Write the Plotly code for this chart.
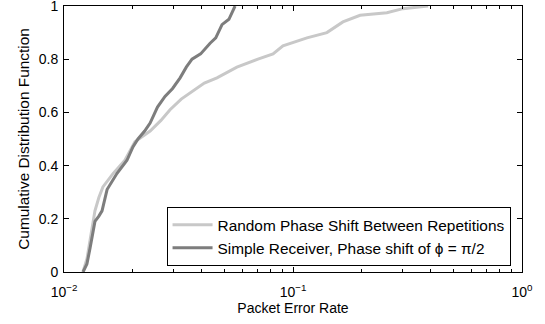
import plotly.graph_objects as go

# Packet error rate (x) and CDF (y) for each series
simple_per = [0.01211, 0.01259, 0.01300, 0.01324, 0.01365, 0.01420, 0.01466, 0.01542, 0.01620,
              0.01702, 0.01884, 0.02000, 0.02104, 0.02250, 0.02377, 0.02560, 0.02761, 0.02980,
              0.03214, 0.03420, 0.03622, 0.03950, 0.04345, 0.04600, 0.04898, 0.05250, 0.05585]
simple_cdf = [0.0, 0.03, 0.09, 0.13, 0.19, 0.21, 0.23, 0.31, 0.34,
              0.37, 0.42, 0.47, 0.50, 0.53, 0.56, 0.62, 0.66, 0.69,
              0.73, 0.77, 0.80, 0.82, 0.86, 0.88, 0.93, 0.95, 1.0]

random_per = [0.0121, 0.0126, 0.0130, 0.01365, 0.0142, 0.01479, 0.01637, 0.01845, 0.0204,
              0.02377, 0.02650, 0.02904, 0.03250, 0.03656, 0.04100, 0.04656, 0.05689, 0.0703,
              0.0818, 0.0904, 0.1151, 0.1406, 0.1652, 0.1963, 0.2570, 0.3020, 0.389]
random_cdf = [0.0, 0.05, 0.12, 0.23, 0.28, 0.32, 0.37, 0.42, 0.49,
              0.53, 0.57, 0.61, 0.65, 0.68, 0.71, 0.73, 0.77, 0.80,
              0.82, 0.85, 0.88, 0.90, 0.94, 0.965, 0.975, 0.99, 1.0]

series_names = ["Random Phase Shift Between Repetitions",
                "Simple Receiver, Phase shift of \u03d5 = \u03c0/2"]

x_major = [0.01, 0.1, 1]
x_major_text = ["10<sup>\u22122</sup>", "10<sup>\u22121</sup>", "10<sup>0</sup>"]
x_minor = [m * d for d in (0.01, 0.1) for m in range(2, 10)]
y_ticks = [0, 0.2, 0.4, 0.6, 0.8, 1]
y_tick_text = ["0", "0.2", "0.4", "0.6", "0.8", "1"]

FAM = "Liberation Sans, Arial, Helvetica, sans-serif"
font = dict(family=FAM, size=14, color="black")
ytitle_font = dict(family=FAM, size=15.4, color="black")
legend_font = dict(family=FAM, size=15.4, color="black")

fig = go.Figure()
fig.add_trace(go.Scatter(x=random_per, y=random_cdf, mode="lines", name=series_names[0],
                         line=dict(color="#c8c8c8", width=3)))
fig.add_trace(go.Scatter(x=simple_per, y=simple_cdf, mode="lines", name=series_names[1],
                         line=dict(color="#7d7d7d", width=3)))
# invisible trace to drive minor-tick axis
fig.add_trace(go.Scatter(x=[0.01, 1], y=[0, 1], xaxis="x2", mode="lines",
                         line=dict(width=0), showlegend=False, hoverinfo="skip"))

fig.update_layout(
    width=545, height=324,
    margin=dict(l=64, r=23, t=6, b=52, autoexpand=False),
    paper_bgcolor="white", plot_bgcolor="white",
    font=font,
    showlegend=True,
    legend=dict(x=0.975, y=0.022, xanchor="right", yanchor="bottom",
                bgcolor="white", bordercolor="black", borderwidth=1,
                font=legend_font, tracegroupgap=0, itemwidth=40),
    xaxis=dict(type="log", range=[-2, 0], tickvals=x_major, ticktext=x_major_text,
               ticks="inside", ticklen=5, tickcolor="black", showline=True,
               linecolor="black", linewidth=1, mirror="ticks", showgrid=False,
               zeroline=False, ticklabelstandoff=7, tickfont=font,
               ticklabeloverflow="allow",
               title=dict(text="Packet Error Rate", font=font, standoff=4)),
    xaxis2=dict(type="log", range=[-2, 0], overlaying="x", tickvals=x_minor,
                ticks="inside", ticklen=3, tickcolor="black", showticklabels=False,
                showline=False, mirror="ticks", showgrid=False, zeroline=False,
                side="bottom"),
    yaxis=dict(range=[0, 1], tickvals=y_ticks, ticktext=y_tick_text,
               ticks="inside", ticklen=5, tickcolor="black", showline=True,
               linecolor="black", linewidth=1, mirror="ticks", showgrid=False,
               zeroline=False, tickfont=font, ticklabeloverflow="allow",
               ticklabelstandoff=2,
               title=dict(text="Cumulative Distribution Function", font=ytitle_font,
                          standoff=5)),
)

fig.write_html("out.html")
